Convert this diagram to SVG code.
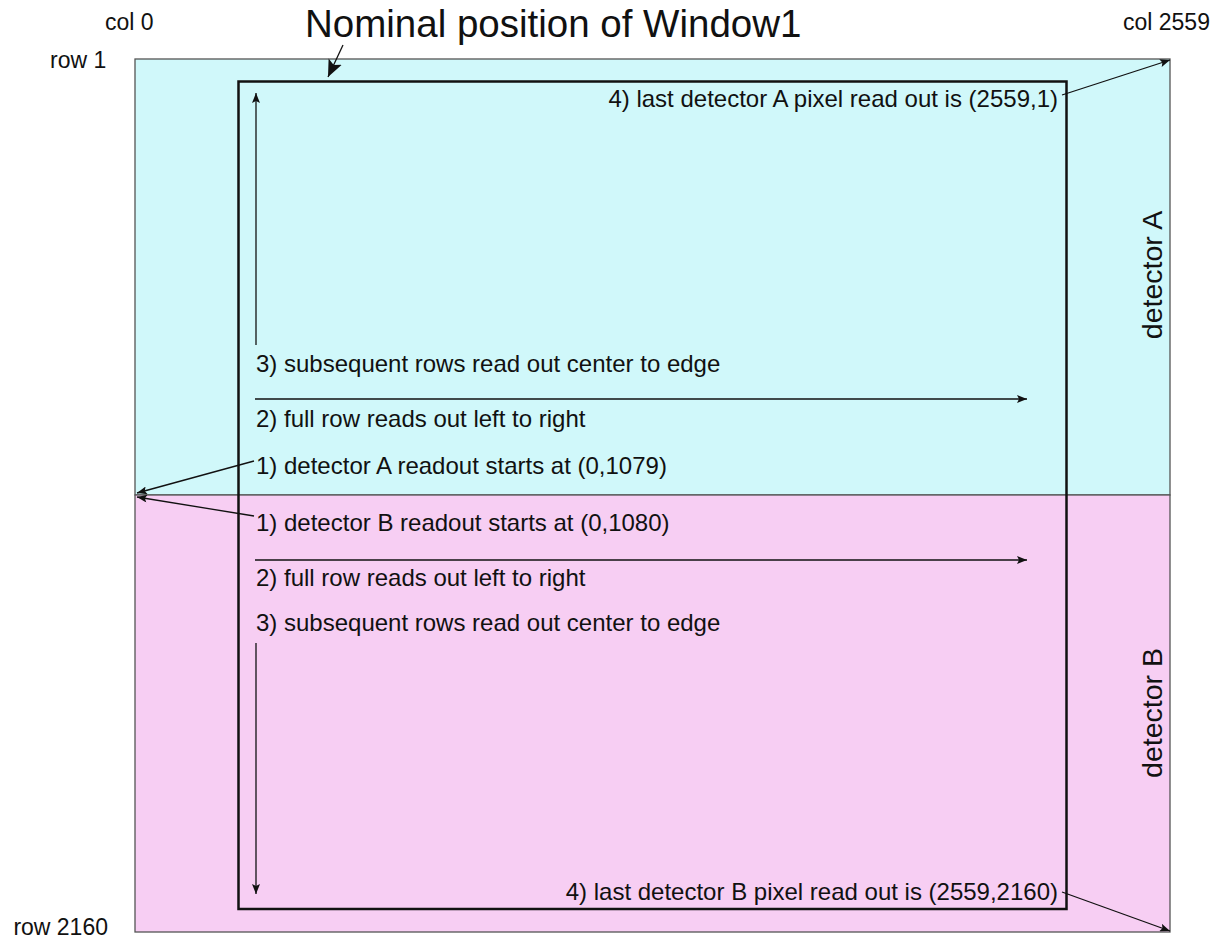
<svg xmlns="http://www.w3.org/2000/svg" width="1225" height="938" viewBox="0 0 1225 938">
<style>
text{font-family:"Liberation Sans",Arial,sans-serif;fill:#111}
.t{font-size:24px}
.lbl{font-size:23px}
.ln{stroke:#111;stroke-width:1.3;fill:none}
</style>
<defs>
<marker id="ah" viewBox="0 0 10 8" refX="10" refY="4" markerWidth="11" markerHeight="8" markerUnits="userSpaceOnUse" orient="auto">
<path d="M0,0 L10,4 L0,8 L2,4 Z" fill="#111"/>
</marker>
<marker id="ahb" viewBox="0 0 14 12" refX="14" refY="6" markerWidth="17" markerHeight="15" markerUnits="userSpaceOnUse" orient="auto">
<path d="M0,0 L14,6 L0,12 L3,6 Z" fill="#111"/>
</marker>
</defs>
<rect width="1225" height="938" fill="#fff"/>
<g id="detectorA">
<rect x="135" y="59" width="1035" height="436" fill="#d0f8fa" stroke="#555" stroke-width="1.3"/>
<text class="t" transform="translate(1162,275) rotate(-90)" text-anchor="middle" style="font-size:28.5px">detector A</text>
</g>
<g id="detectorB">
<rect x="135" y="495" width="1035" height="437" fill="#f7cef3" stroke="#555" stroke-width="1.3"/>
<text class="t" transform="translate(1162,713) rotate(-90)" text-anchor="middle" style="font-size:28.5px">detector B</text>
</g>
<g id="window1">
<rect x="238.5" y="81.5" width="828" height="827.5" fill="none" stroke="#111" stroke-width="2.5"/>
</g>
<g id="labels">
<text x="305" y="37" style="font-size:38.5px">Nominal position of Window1</text>
<text class="lbl" x="105" y="30">col 0</text>
<text class="lbl" x="50" y="68">row 1</text>
<text class="lbl" x="1123" y="30">col 2559</text>
<text class="lbl" x="108" y="935" text-anchor="end">row 2160</text>
<text class="t" x="1058" y="107" text-anchor="end">4) last detector A pixel read out is (2559,1)</text>
<text class="t" x="256" y="372">3) subsequent rows read out center to edge</text>
<text class="t" x="256" y="427">2) full row reads out left to right</text>
<text class="t" x="256" y="474">1) detector A readout starts at (0,1079)</text>
<text class="t" x="256" y="531">1) detector B readout starts at (0,1080)</text>
<text class="t" x="256" y="586">2) full row reads out left to right</text>
<text class="t" x="256" y="631">3) subsequent rows read out center to edge</text>
<text class="t" x="1058" y="900" text-anchor="end">4) last detector B pixel read out is (2559,2160)</text>
</g>
<g id="connectors">
<line class="ln" x1="343" y1="45" x2="328" y2="77" marker-end="url(#ahb)" stroke-width="2.4"/>
<line class="ln" x1="1062" y1="95" x2="1170" y2="60" marker-end="url(#ah)"/>
<line class="ln" x1="1062" y1="892" x2="1170" y2="931" marker-end="url(#ah)"/>
<line class="ln" x1="256" y1="345" x2="256" y2="93" marker-end="url(#ah)"/>
<line class="ln" x1="255" y1="399" x2="1027" y2="399" marker-end="url(#ah)"/>
<line class="ln" x1="254" y1="461" x2="137" y2="493" marker-end="url(#ah)"/>
<line class="ln" x1="254" y1="516" x2="137" y2="497" marker-end="url(#ah)"/>
<line class="ln" x1="255" y1="560" x2="1027" y2="560" marker-end="url(#ah)"/>
<line class="ln" x1="256" y1="643" x2="256" y2="894" marker-end="url(#ah)"/>
</g>
</svg>
